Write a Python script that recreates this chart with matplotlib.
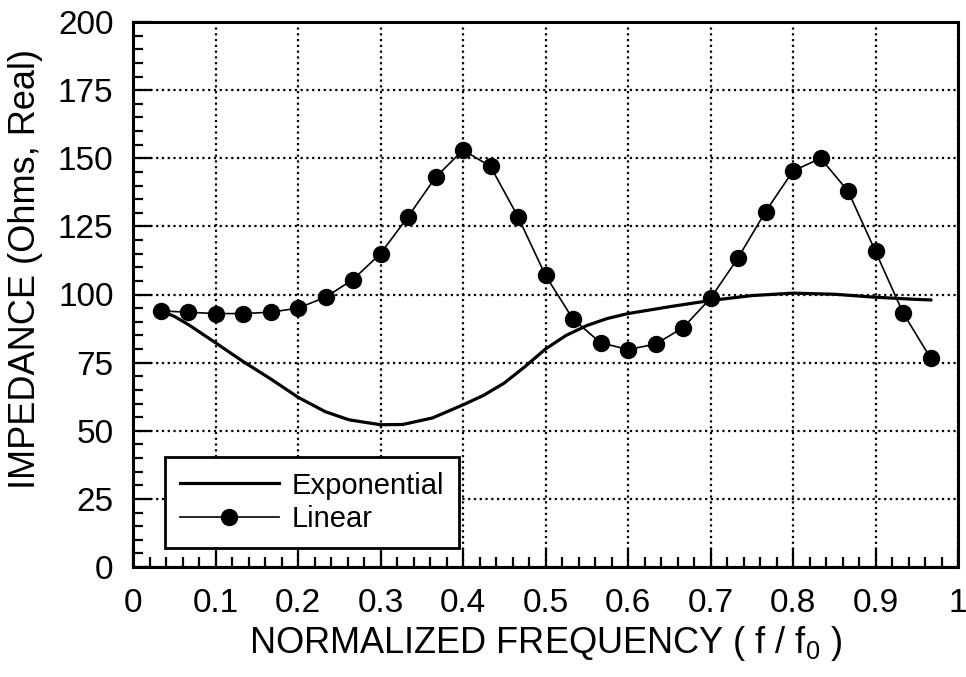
import matplotlib
matplotlib.use("Agg")
import matplotlib.pyplot as plt
from matplotlib.ticker import MultipleLocator

plt.rcParams['font.family'] = ['Liberation Sans', 'DejaVu Sans']

# Linear taper (points)
lin_x = [1/30, 2/30, 3/30, 4/30, 5/30, 6/30, 7/30, 8/30, 9/30, 10/30,
         11/30, 12/30, 13/30, 14/30, 15/30, 16/30, 17/30, 18/30, 19/30, 20/30,
         21/30, 22/30, 23/30, 24/30, 25/30, 26/30, 27/30, 28/30, 29/30]
lin_y = [94, 93.5, 93, 93, 93.5, 95, 99, 105.5, 115, 128.5,
         143, 153, 147, 128.5, 107, 91, 82.3, 79.8, 81.8, 87.8,
         98.6, 113.4, 130.4, 145.3, 150, 138, 115.8, 93.3, 76.7]

# Exponential taper (smooth curve)
exp_x = [0.033, 0.05, 0.067, 0.1, 0.133, 0.167, 0.2, 0.233, 0.262, 0.3,
         0.327, 0.363, 0.4, 0.425, 0.45, 0.475, 0.5, 0.525, 0.55, 0.575,
         0.6, 0.65, 0.7, 0.75, 0.8, 0.85, 0.9, 0.95, 0.967]
exp_y = [94, 92, 89, 82.3, 75.5, 69, 62.3, 57, 54, 52.2,
         52.3, 54.7, 59.5, 63, 67.5, 73.5, 80, 85, 88.6, 91.2,
         93, 95.5, 97.8, 99.6, 100.5, 100.1, 99, 98.2, 98]

fig = plt.figure(figsize=(9.66, 6.77), dpi=100)
ax = fig.add_axes([133/966, 110/677, 825/966, 545/677])

ax.plot(exp_x, exp_y, color='black', lw=2.3, label='Exponential', zorder=3,
        solid_joinstyle='round')
ax.plot(lin_x, lin_y, color='black', lw=1.2, marker='o', markersize=11.5,
        label='Linear', zorder=4)

ax.set_xlim(0, 1)
ax.set_ylim(0, 200)
ax.xaxis.set_minor_locator(MultipleLocator(0.02))
ax.yaxis.set_major_locator(MultipleLocator(25))
ax.yaxis.set_minor_locator(MultipleLocator(5))

xt = [0, 0.1, 0.2, 0.3, 0.4, 0.5, 0.6, 0.7, 0.8, 0.9, 1]
xtl = ['0', '0.1', '0.2', '0.3', '0.4', '0.5', '0.6', '0.7', '0.8', '0.9', '1']
ax.set_xticks(xt)
ax.set_xticklabels(xtl)

ax.tick_params(which='major', direction='in', length=14, width=1.6,
               labelsize=24, color='black')
ax.tick_params(axis='y', which='major', pad=14)
ax.tick_params(axis='x', which='major', pad=15)
ax.tick_params(which='minor', direction='in', length=7.5, width=1.6)
ax.tick_params(top=False, right=False, which='both')

ax.grid(True, which='major', color='black', linestyle=(0, (1, 1.6)), lw=1.6)
for s in ax.spines.values():
    s.set_linewidth(2.2)

ax.set_xlabel('NORMALIZED FREQUENCY ( f / f$_{\\mathregular{0}}$ )', fontsize=26, labelpad=4)
ax.set_ylabel('IMPEDANCE (Ohms, Real)', fontsize=26)
ax.yaxis.set_label_coords(-0.109, 0.547)

leg = ax.legend(loc='lower left', bbox_to_anchor=(0.039, 0.035), borderaxespad=0,
                fontsize=21, frameon=True, fancybox=False, edgecolor='black',
                framealpha=1, handlelength=3.4, handletextpad=0.45,
                labelspacing=0.2, borderpad=0.5)
leg.get_frame().set_linewidth(2)

fig.savefig('out.png', dpi=100)
